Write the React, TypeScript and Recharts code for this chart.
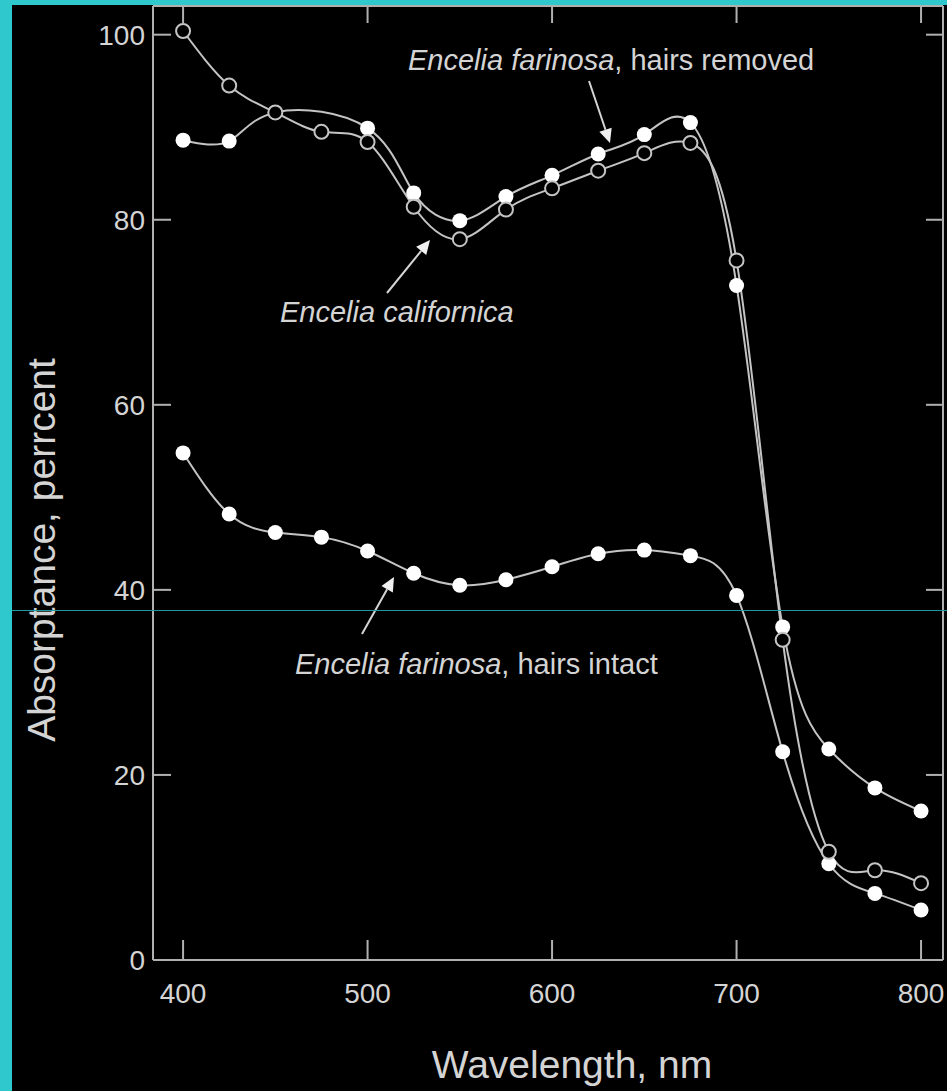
import React from 'react';
import { LineChart, Line, XAxis, YAxis } from 'recharts';

const wavelengths = [400, 425, 450, 475, 500, 525, 550, 575, 600, 625, 650, 675, 700, 725, 750, 775, 800];
const californica = [100.4, 94.5, 91.6, 89.5, 88.4, 81.4, 77.9, 81.1, 83.4, 85.3, 87.2, 88.3, 75.6, 34.6, 11.7, 9.7, 8.3];
const hairsRemoved = [88.6, 88.5, 91.6, null, 89.9, 82.9, 79.9, 82.5, 84.8, 87.1, 89.2, 90.5, 72.9, 36.0, 22.8, 18.6, 16.1];
const hairsIntact = [54.8, 48.2, 46.2, 45.7, 44.2, 41.8, 40.5, 41.1, 42.5, 43.9, 44.3, 43.7, 39.4, 22.5, 10.4, 7.2, 5.4];
const xTicks = [400, 500, 600, 700, 800];
const yTicks = [0, 20, 40, 60, 80, 100];

const rows = wavelengths.map((w, i) => ({
  wl: w,
  cal: californica[i],
  rem: hairsRemoved[i],
  intact: hairsIntact[i],
}));

const FONT = '"Liberation Sans", Arial, Helvetica, sans-serif';
const TEXT = '#d4d4d4';
const AXIS = '#b0b0b0';
const LINE = '#c4c4c4';
const CYAN = '#2fc9cd';

const EmptyTick = () => <g />;

function Arrow({ x1, y1, x2, y2 }: { x1: number; y1: number; x2: number; y2: number }) {
  const dx = x2 - x1;
  const dy = y2 - y1;
  const len = Math.sqrt(dx * dx + dy * dy);
  const ux = dx / len;
  const uy = dy / len;
  const hl = 14;
  const hw = 6.5;
  const bx = x2 - ux * hl;
  const by = y2 - uy * hl;
  const px = -uy;
  const py = ux;
  return (
    <g>
      <line x1={x1} y1={y1} x2={bx} y2={by} stroke={TEXT} strokeWidth={2} />
      <polygon
        points={`${x2},${y2} ${bx + px * hw},${by + py * hw} ${bx - px * hw},${by - py * hw}`}
        fill="#f0f0f0"
      />
    </g>
  );
}

export default function App() {
  const xDomain = [383.7, 811.9];
  const yDomain = [0, 103.1];
  return (
    <div
      style={{
        position: 'absolute',
        left: 0,
        top: 0,
        width: 947,
        height: 1091,
        background: '#000',
        fontFamily: FONT,
        overflow: 'hidden',
      }}
    >
      <LineChart
        width={947}
        height={1091}
        data={rows}
        margin={{ top: 5, right: 3, bottom: 71, left: 73 }}
      >
        <XAxis
          dataKey="wl"
          type="number"
          domain={xDomain}
          allowDataOverflow
          ticks={xTicks}
          height={60}
          stroke={AXIS}
          strokeWidth={2}
          tickSize={-20}
          tickMargin={43}
          tick={{ fill: TEXT, fontSize: 28, fontFamily: FONT }}
        />
        <XAxis
          xAxisId="top"
          dataKey="wl"
          orientation="top"
          type="number"
          domain={xDomain}
          allowDataOverflow
          ticks={xTicks}
          height={1}
          stroke={AXIS}
          strokeWidth={2}
          tickSize={-17}
          tick={EmptyTick}
        />
        <YAxis
          type="number"
          domain={yDomain}
          allowDataOverflow
          ticks={yTicks}
          width={80}
          stroke={AXIS}
          strokeWidth={2}
          tickSize={-18}
          tickMargin={26}
          tick={{ fill: TEXT, fontSize: 28, fontFamily: FONT }}
        />
        <YAxis
          yAxisId="right"
          orientation="right"
          type="number"
          domain={yDomain}
          allowDataOverflow
          ticks={yTicks}
          width={1}
          stroke={AXIS}
          strokeWidth={2}
          tickSize={-17}
          tick={EmptyTick}
        />
        <Line
          xAxisId="top"
          yAxisId="right"
          dataKey="cal"
          stroke="none"
          dot={false}
          activeDot={false}
          legendType="none"
          isAnimationActive={false}
        />
        <Line
          dataKey="rem"
          type="natural"
          connectNulls
          stroke={LINE}
          strokeWidth={2}
          dot={{ r: 7.5, fill: '#ffffff', stroke: '#ffffff', strokeWidth: 0 }}
          activeDot={false}
          isAnimationActive={false}
        />
        <Line
          dataKey="intact"
          type="natural"
          stroke={LINE}
          strokeWidth={2}
          dot={{ r: 7.5, fill: '#ffffff', stroke: '#ffffff', strokeWidth: 0 }}
          activeDot={false}
          isAnimationActive={false}
        />
        <Line
          dataKey="cal"
          type="natural"
          stroke={LINE}
          strokeWidth={2}
          dot={{ r: 7, fill: '#000000', stroke: LINE, strokeWidth: 2 }}
          activeDot={false}
          isAnimationActive={false}
        />
      </LineChart>
      <svg
        width={947}
        height={1091}
        style={{ position: 'absolute', left: 0, top: 0, pointerEvents: 'none' }}
      >
        <text x={408} y={70} fill={TEXT} fontSize={29} fontFamily={FONT}>
          <tspan fontStyle="italic">Encelia farinosa</tspan>, hairs removed
        </text>
        <Arrow x1={589} y1={81} x2={610} y2={143} />
        <text x={280} y={322} fill={TEXT} fontSize={29} fontFamily={FONT} fontStyle="italic">
          Encelia californica
        </text>
        <Arrow x1={387} y1={293} x2={430} y2={240} />
        <text x={295} y={674} fill={TEXT} fontSize={29} fontFamily={FONT}>
          <tspan fontStyle="italic">Encelia farinosa</tspan>, hairs intact
        </text>
        <Arrow x1={362} y1={634} x2={394} y2={577} />
        <text x={572} y={1078} fill={TEXT} fontSize={39} fontFamily={FONT} textAnchor="middle">
          Wavelength, nm
        </text>
        <text
          x={55}
          y={550}
          fill={TEXT}
          fontSize={39}
          fontFamily={FONT}
          textAnchor="middle"
          transform="rotate(-90, 55, 550)"
        >
          Absorptance, perrcent
        </text>
      </svg>
      <div style={{ position: 'absolute', left: 0, top: 0, width: 12, height: 1091, background: CYAN }} />
      <div style={{ position: 'absolute', left: 0, top: 0, width: 947, height: 5, background: CYAN }} />
      <div style={{ position: 'absolute', left: 12, top: 610, width: 935, height: 1, background: '#1f9a9c' }} />
    </div>
  );
}
